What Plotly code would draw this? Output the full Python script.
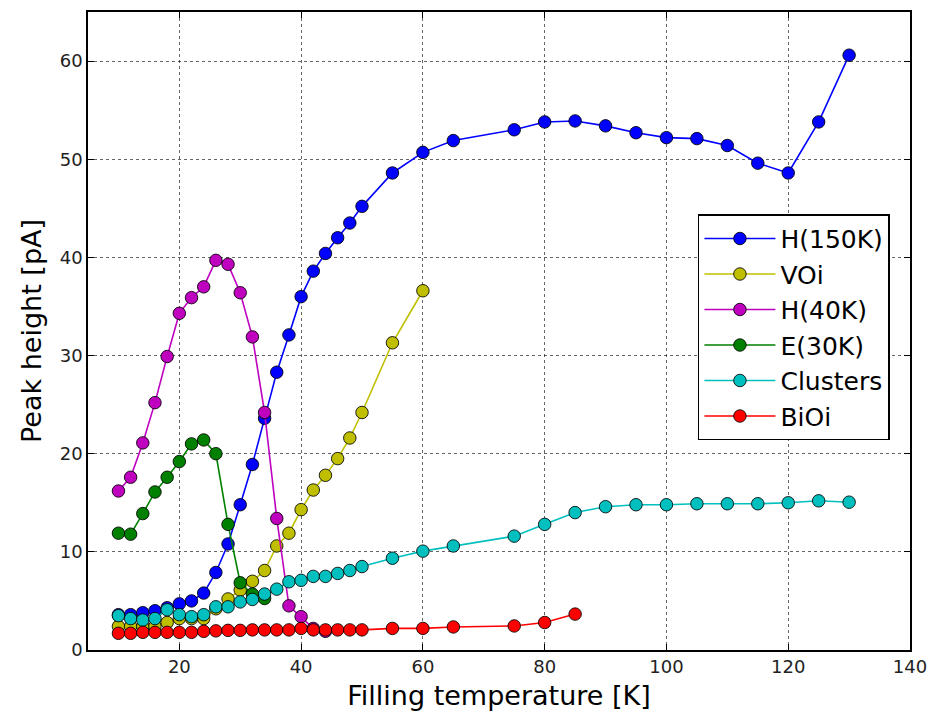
import plotly.graph_objects as go

# ---- data ----
T_h150 = [10, 12, 14, 16, 18, 20, 22, 24, 26, 28, 30, 32, 34, 36, 38, 40, 42, 44, 46, 48, 50,
          55, 60, 65, 75, 80, 85, 90, 95, 100, 105, 110, 115, 120, 125, 130]
H150 = [3.6, 3.6, 3.8, 4.0, 4.3, 4.7, 5.0, 5.8, 7.9, 10.8, 14.8, 18.9, 23.6, 28.3, 32.1, 36.0,
        38.6, 40.4, 42.0, 43.5, 45.2, 48.6, 50.7, 51.9, 53.0, 53.8, 53.9, 53.4, 52.7, 52.2,
        52.1, 51.4, 49.6, 48.6, 53.8, 60.6]

T_voi = [10, 12, 14, 16, 18, 20, 22, 24, 26, 28, 30, 32, 34, 36, 38, 40, 42, 44, 46, 48, 50, 55, 60]
VOI = [2.4, 2.4, 2.4, 2.4, 2.8, 3.2, 3.2, 3.2, 4.2, 5.2, 6.1, 7.0, 8.1, 10.6, 11.9, 14.3, 16.3,
       17.8, 19.5, 21.6, 24.2, 31.3, 36.6]

T_h40 = [10, 12, 14, 16, 18, 20, 22, 24, 26, 28, 30, 32, 34, 36, 38, 40, 42, 44]
H40 = [16.2, 17.6, 21.1, 25.2, 29.9, 34.3, 35.9, 37.0, 39.7, 39.3, 36.4, 31.9, 24.2, 13.4, 4.5,
       3.4, 2.2, 1.9]

T_e30 = [10, 12, 14, 16, 18, 20, 22, 24, 26, 28, 30, 32, 34]
E30 = [11.9, 11.8, 13.9, 16.1, 17.6, 19.2, 21.0, 21.4, 20.0, 12.8, 6.85, 5.7, 5.25]

T_cl = [10, 12, 14, 16, 18, 20, 22, 24, 26, 28, 30, 32, 34, 36, 38, 40, 42, 44, 46, 48, 50,
        55, 60, 65, 75, 80, 85, 90, 95, 100, 105, 110, 115, 120, 125, 130]
CL = [3.5, 3.2, 3.05, 3.2, 4.1, 3.6, 3.4, 3.6, 4.4, 4.4, 4.9, 5.15, 5.7, 6.2, 6.95, 7.1, 7.5,
      7.5, 7.8, 8.1, 8.5, 9.35, 10.07, 10.6, 11.6, 12.8, 14.0, 14.6, 14.8, 14.8, 14.9, 14.9,
      14.9, 15.0, 15.2, 15.06]

T_bi = [10, 12, 14, 16, 18, 20, 22, 24, 26, 28, 30, 32, 34, 36, 38, 40, 42, 44, 46, 48, 50,
        55, 60, 65, 75, 80, 85]
BI = [1.7, 1.7, 1.8, 1.8, 1.8, 1.8, 1.8, 1.9, 1.95, 2.0, 2.0, 2.05, 2.05, 2.05, 2.05, 2.2, 2.05,
      2.05, 2.05, 2.05, 2.05, 2.2, 2.2, 2.35, 2.45, 2.8, 3.66]

series = [
    ("H(150K)", T_h150, H150, "#0000ff"),
    ("VOi", T_voi, VOI, "#bfbf00"),
    ("H(40K)", T_h40, H40, "#bf00bf"),
    ("E(30K)", T_e30, E30, "#008000"),
    ("Clusters", T_cl, CL, "#00bfbf"),
    ("BiOi", T_bi, BI, "#ff0000"),
]

X_TICKS = [20, 40, 60, 80, 100, 120, 140]
Y_TICKS = [0, 10, 20, 30, 40, 50, 60]

FONT = "DejaVu Sans"

fig = go.Figure()
for name, xs, ys, col in series:
    fig.add_trace(go.Scatter(
        x=xs, y=ys, name=name, mode="lines+markers",
        line=dict(color=col, width=1.6),
        marker=dict(color=col, size=12.5, line=dict(color="rgba(0,0,0,0.85)", width=1)),
    ))

axis_common = dict(
    showline=True, linecolor="black", linewidth=1.5, mirror="ticks",
    ticks="inside", ticklen=6, tickwidth=1, tickcolor="black",
    showgrid=True, gridcolor="rgba(0,0,0,0.6)", gridwidth=1, griddash="dot",
    zeroline=False, automargin=False,
    tickfont=dict(family=FONT, size=18, color="#222"),
)

fig.update_layout(
    width=931, height=711,
    margin=dict(l=88, r=21, t=12, b=61, autoexpand=False),
    paper_bgcolor="white", plot_bgcolor="white",
    font=dict(family=FONT, color="black"),
    showlegend=True,
    legend=dict(
        x=0.742, y=0.683, xanchor="left", yanchor="top",
        bordercolor="black", borderwidth=1.5, bgcolor="white",
        font=dict(family=FONT, size=25, color="black"),
        tracegroupgap=0, itemwidth=71,
    ),
    xaxis=dict(range=[5, 140], tickvals=X_TICKS,
               title=dict(text="Filling temperature [K]", font=dict(family=FONT, size=27), standoff=10),
               **axis_common),
    yaxis=dict(range=[0, 65], tickvals=Y_TICKS,
               title=dict(text="Peak height [pA]", font=dict(family=FONT, size=27), standoff=10),
               **axis_common),
)

fig.write_html("out.html")
